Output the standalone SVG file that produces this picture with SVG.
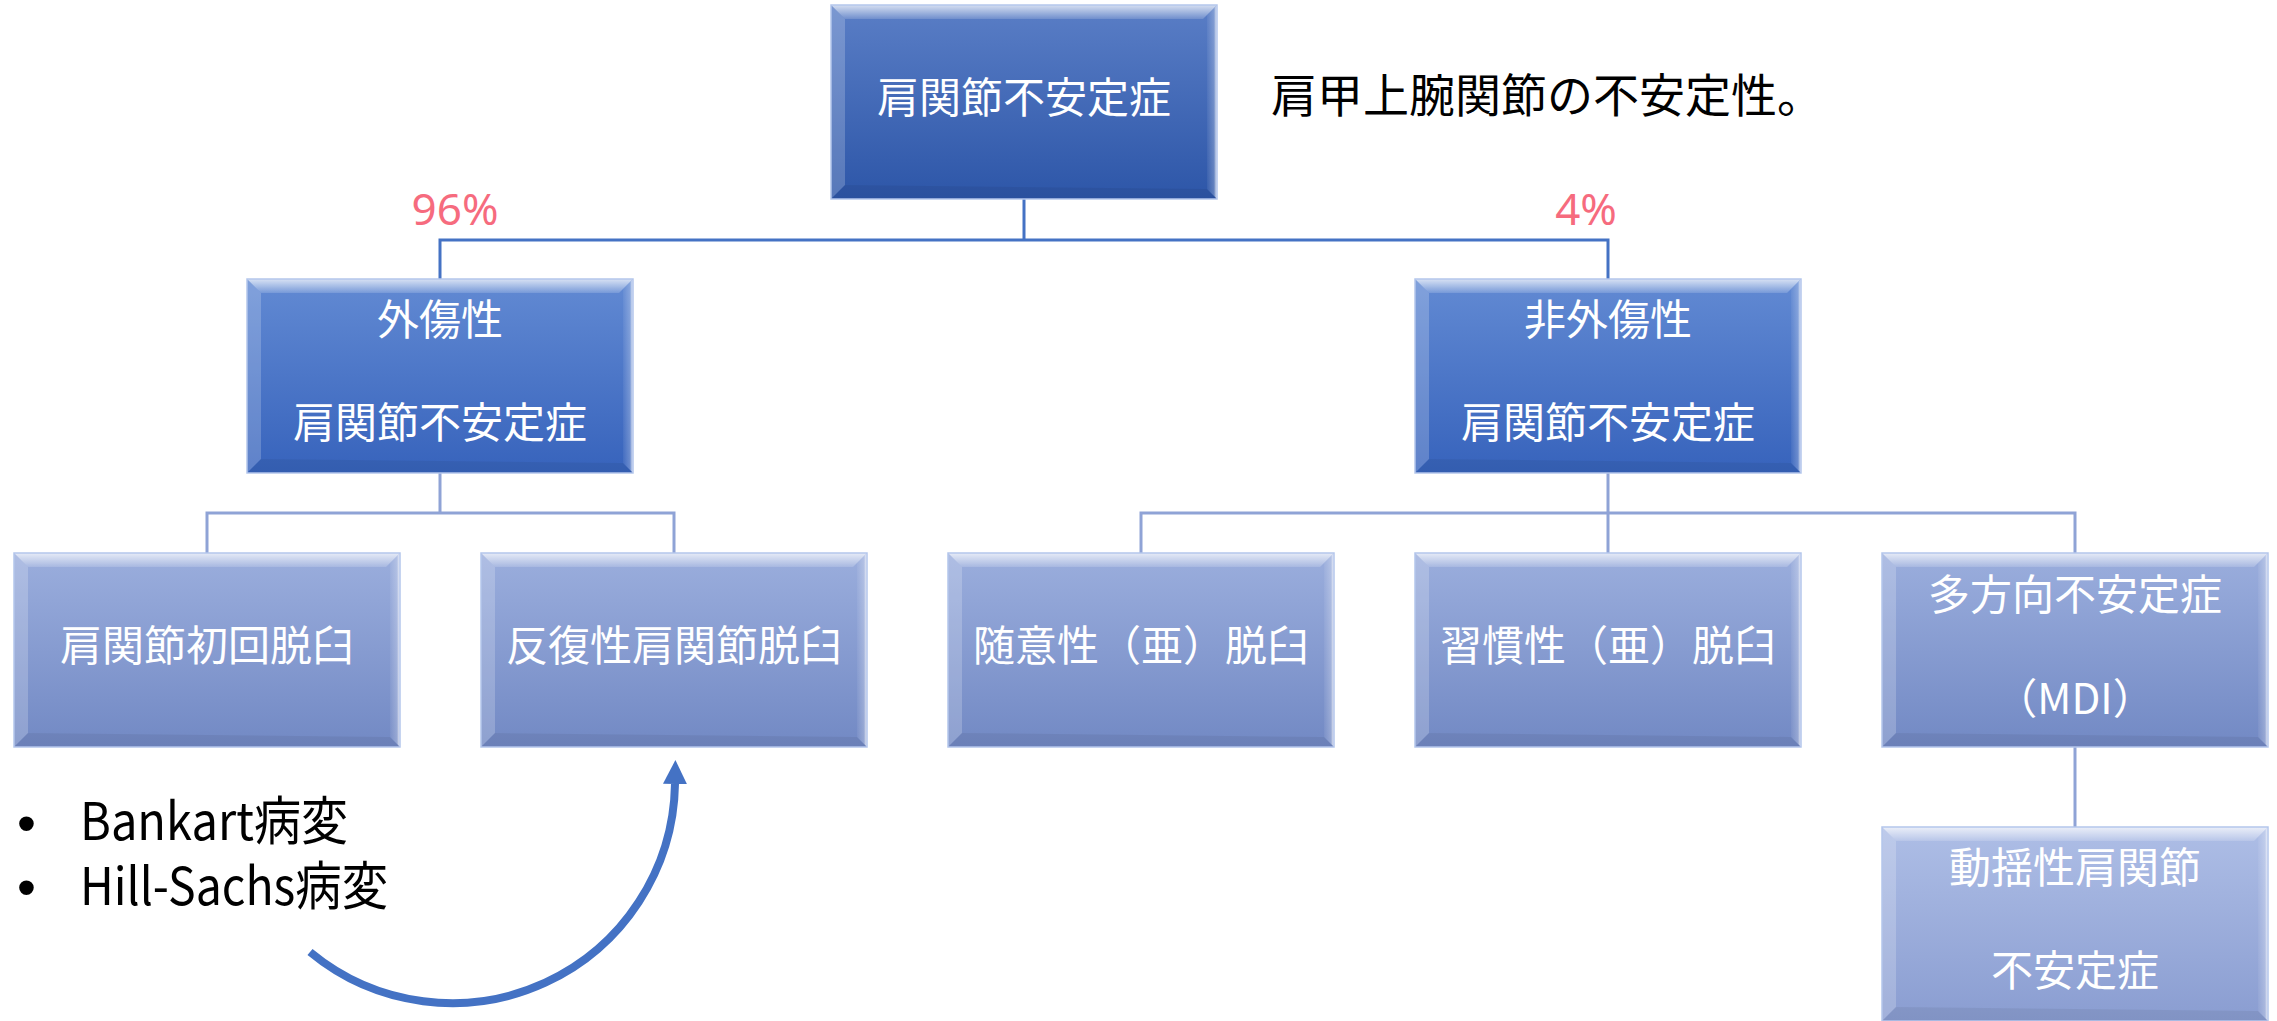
<svg xmlns="http://www.w3.org/2000/svg" width="2277" height="1021" viewBox="0 0 2277 1021">
<style>
  .lbl{font-family:"Noto Sans CJK JP","Noto Sans",sans-serif;font-size:42px;fill:#ffffff;text-anchor:middle}
  .pct{font-family:"Noto Sans","Noto Sans CJK JP",sans-serif;font-size:44px;fill:#F66B7E;text-anchor:middle}
  .desc{font-family:"Noto Sans CJK JP",sans-serif;font-size:46px;fill:#000000}
  .bul{font-family:"Noto Sans CJK JP","Noto Sans",sans-serif;font-size:52px;fill:#000000}
  .dot{font-family:"Liberation Sans",sans-serif;font-size:54px}
  .dark{fill:none;stroke:#4472C4;stroke-width:3}
  .light{fill:none;stroke:#8FA3D6;stroke-width:3}
  .edge{stroke:#B4C6EC;stroke-width:1.5}
</style>
<defs>
  <linearGradient id="g1" x1="0" y1="0" x2="0" y2="1">
    <stop offset="0" stop-color="#5A7EC6"/><stop offset="1" stop-color="#2D56A8"/>
  </linearGradient>
  <linearGradient id="g2" x1="0" y1="0" x2="0" y2="1">
    <stop offset="0" stop-color="#628AD3"/><stop offset="1" stop-color="#3763BC"/>
  </linearGradient>
  <linearGradient id="g3" x1="0" y1="0" x2="0" y2="1">
    <stop offset="0" stop-color="#9BAEDD"/><stop offset="1" stop-color="#7289C4"/>
  </linearGradient>
  <linearGradient id="g4" x1="0" y1="0" x2="0" y2="1">
    <stop offset="0" stop-color="#AEBEE6"/><stop offset="1" stop-color="#8A9DD1"/>
  </linearGradient>
  <linearGradient id="bevTop" x1="0" y1="0" x2="0" y2="1">
    <stop offset="0" stop-color="#ffffff" stop-opacity="0.75"/><stop offset="1" stop-color="#ffffff" stop-opacity="0.15"/>
  </linearGradient>
  <linearGradient id="bevRight" x1="0" y1="0" x2="1" y2="0">
    <stop offset="0" stop-color="#ffffff" stop-opacity="0.05"/><stop offset="0.7" stop-color="#ffffff" stop-opacity="0.25"/><stop offset="1" stop-color="#ffffff" stop-opacity="0.9"/>
  </linearGradient>
  <g id="bevel">
    <polygon points="0,0 386,0 372,14 14,14" fill="url(#bevTop)"/>
    <polygon points="0,0 14,14 14,180 0,194" fill="#ffffff" fill-opacity="0.2"/>
    <polygon points="386,0 386,194 376,184 376,10" fill="url(#bevRight)"/>
    <polygon points="0,194 14,180 376,184 386,194" fill="#000000" fill-opacity="0.06"/>
    <rect x="0" y="0" width="386" height="194" fill="none" class="edge"/>
  </g>
  <marker id="ah" viewBox="0 0 10 10" refX="0" refY="5" markerWidth="3" markerHeight="3" orient="auto" markerUnits="strokeWidth">
    <path d="M0,0 L10,5 L0,10 z" fill="#4472C4"/>
  </marker>
</defs>
<rect width="2277" height="1021" fill="#ffffff"/>

<g id="connectors">
  <path class="dark" d="M1024,199 V240 M440,280 V240 H1608 V280"/>
  <path class="light" d="M440,473 V513 M207,553 V513 H674 V553"/>
  <path class="light" d="M1608,473 V553 M1141,553 V513 H2075 V553"/>
  <path class="light" d="M2075,747 V827"/>
  <path d="M310,952 A223,223 0 0 0 675,784" fill="none" stroke="#4472C4" stroke-width="8" marker-end="url(#ah)"/>
</g>

<g id="n-root">
  <rect x="831" y="5" width="386" height="194" fill="url(#g1)"/>
  <use href="#bevel" x="831" y="5"/>
  <text class="lbl" x="1024" y="113">肩関節不安定症</text>
</g>
<g id="n-trauma">
  <rect x="247" y="279" width="386" height="194" fill="url(#g2)"/>
  <use href="#bevel" x="247" y="279"/>
  <text class="lbl" x="440" y="335">外傷性</text>
  <text class="lbl" x="440" y="438">肩関節不安定症</text>
</g>
<g id="n-atrauma">
  <rect x="1415" y="279" width="386" height="194" fill="url(#g2)"/>
  <use href="#bevel" x="1415" y="279"/>
  <text class="lbl" x="1608" y="335">非外傷性</text>
  <text class="lbl" x="1608" y="438">肩関節不安定症</text>
</g>
<g id="n-first">
  <rect x="14" y="553" width="386" height="194" fill="url(#g3)"/>
  <use href="#bevel" x="14" y="553"/>
  <text class="lbl" x="207" y="661">肩関節初回脱臼</text>
</g>
<g id="n-recurrent">
  <rect x="481" y="553" width="386" height="194" fill="url(#g3)"/>
  <use href="#bevel" x="481" y="553"/>
  <text class="lbl" x="674" y="661">反復性肩関節脱臼</text>
</g>
<g id="n-voluntary">
  <rect x="948" y="553" width="386" height="194" fill="url(#g3)"/>
  <use href="#bevel" x="948" y="553"/>
  <text class="lbl" x="1141" y="661">随意性（亜）脱臼</text>
</g>
<g id="n-habitual">
  <rect x="1415" y="553" width="386" height="194" fill="url(#g3)"/>
  <use href="#bevel" x="1415" y="553"/>
  <text class="lbl" x="1608" y="661">習慣性（亜）脱臼</text>
</g>
<g id="n-mdi">
  <rect x="1882" y="553" width="386" height="194" fill="url(#g3)"/>
  <use href="#bevel" x="1882" y="553"/>
  <text class="lbl" x="2075" y="610">多方向不安定症</text>
  <text class="lbl" x="2075" y="714">（MDI）</text>
</g>
<g id="n-loose">
  <rect x="1882" y="827" width="386" height="194" fill="url(#g4)"/>
  <use href="#bevel" x="1882" y="827"/>
  <text class="lbl" x="2075" y="883">動揺性肩関節</text>
  <text class="lbl" x="2075" y="986">不安定症</text>
</g>

<g id="labels">
  <text class="pct" x="455" y="225">96%</text>
  <text class="pct" x="1586" y="225">4%</text>
  <text class="desc" x="1271" y="112">肩甲上腕関節の不安定性。</text>
  <text class="bul"><tspan class="dot" x="17" y="842">•</tspan><tspan x="80" y="840" textLength="268" lengthAdjust="spacingAndGlyphs">Bankart病変</tspan><tspan class="dot" x="17" y="906">•</tspan><tspan x="80" y="905" textLength="308" lengthAdjust="spacingAndGlyphs">Hill-Sachs病変</tspan></text>
</g>
</svg>
